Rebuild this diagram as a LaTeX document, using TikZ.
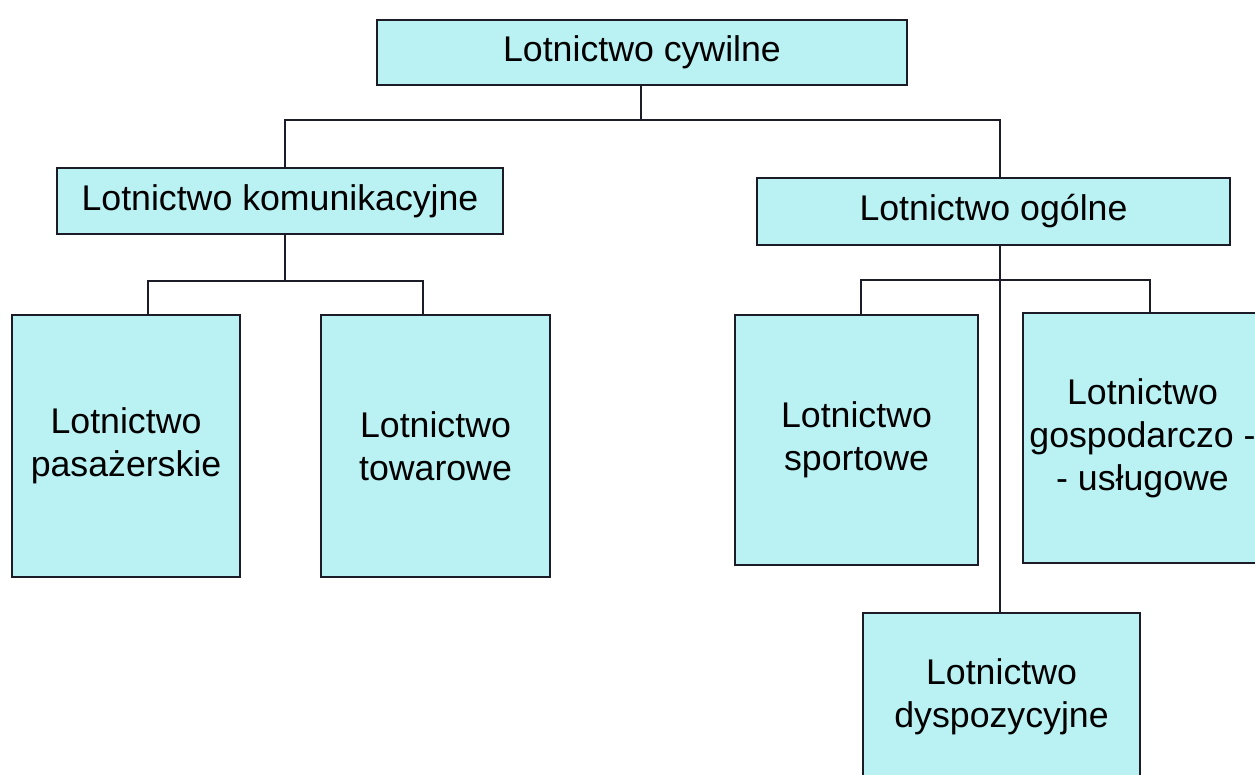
\documentclass[tikz,border=0pt]{standalone}
\usepackage{fontspec}
\setmainfont{Liberation Sans}
\definecolor{boxfill}{RGB}{186,242,244}
\definecolor{inkline}{RGB}{28,28,40}
\begin{document}
\begin{tikzpicture}[x=1pt,y=-1pt,
  orgbox/.style={draw=inkline, line width=1.3pt, fill=boxfill, inner sep=0pt,
    align=center, font=\fontsize{35.7}{43}\selectfont},
  link/.style={draw=inkline, line width=1.2pt}]
\useasboundingbox (0,0) rectangle (1255,774);
\clip (0,0) rectangle (1255,774);
\fill[white] (0,0) rectangle (1255,774);

% level 0
\node[orgbox, minimum width=530pt, minimum height=65pt] (top) at (642,52.5) {Lotnictwo cywilne};
% level 1
\node[orgbox, minimum width=446pt, minimum height=66pt] (comm) at (280,201) {Lotnictwo komunikacyjne};
\node[orgbox, minimum width=473pt, minimum height=67pt] (gen) at (993.5,211.5) {Lotnictwo ogólne};
% level 2, left branch
\node[orgbox, minimum width=228pt, minimum height=262pt] (pas) at (126,446) {Lotnictwo\\pasażerskie};
\node[orgbox, minimum width=229pt, minimum height=262pt] (tow) at (435.5,446) {Lotnictwo\\towarowe};
% level 2, right branch
\node[orgbox, minimum width=243pt, minimum height=250pt] (spo) at (856.5,440) {Lotnictwo\\sportowe};
\node[orgbox, minimum width=239pt, minimum height=250pt] (gos) at (1142.5,438) {Lotnictwo\\gospodarczo -\\- usługowe};
\node[orgbox, minimum width=277pt, minimum height=168pt] (dys) at (1001.5,697) {Lotnictwo\\dyspozycyjne};

% connectors: top level
\coordinate (jtop) at (641,120);
\coordinate (jL) at (285,120);
\coordinate (jR) at (1000,120);
\draw[link] (jtop |- top.south) -- (jtop);
\draw[link] (jL |- comm.north) -- (jL) -- (jR) -- (jR |- gen.north);

% connectors: left branch
\coordinate (jc) at (285,281);
\coordinate (jpas) at (148,281);
\coordinate (jtow) at (423,281);
\draw[link] (jc |- comm.south) -- (jc);
\draw[link] (jpas |- pas.north) -- (jpas) -- (jtow) -- (jtow |- tow.north);

% connectors: right branch
\coordinate (jg) at (1000,280);
\coordinate (jspo) at (861,280);
\coordinate (jgos) at (1150,280);
\draw[link] (jg |- gen.south) -- (jg |- dys.north);
\draw[link] (jspo |- spo.north) -- (jspo) -- (jgos) -- (jgos |- gos.north);
\end{tikzpicture}
\end{document}
